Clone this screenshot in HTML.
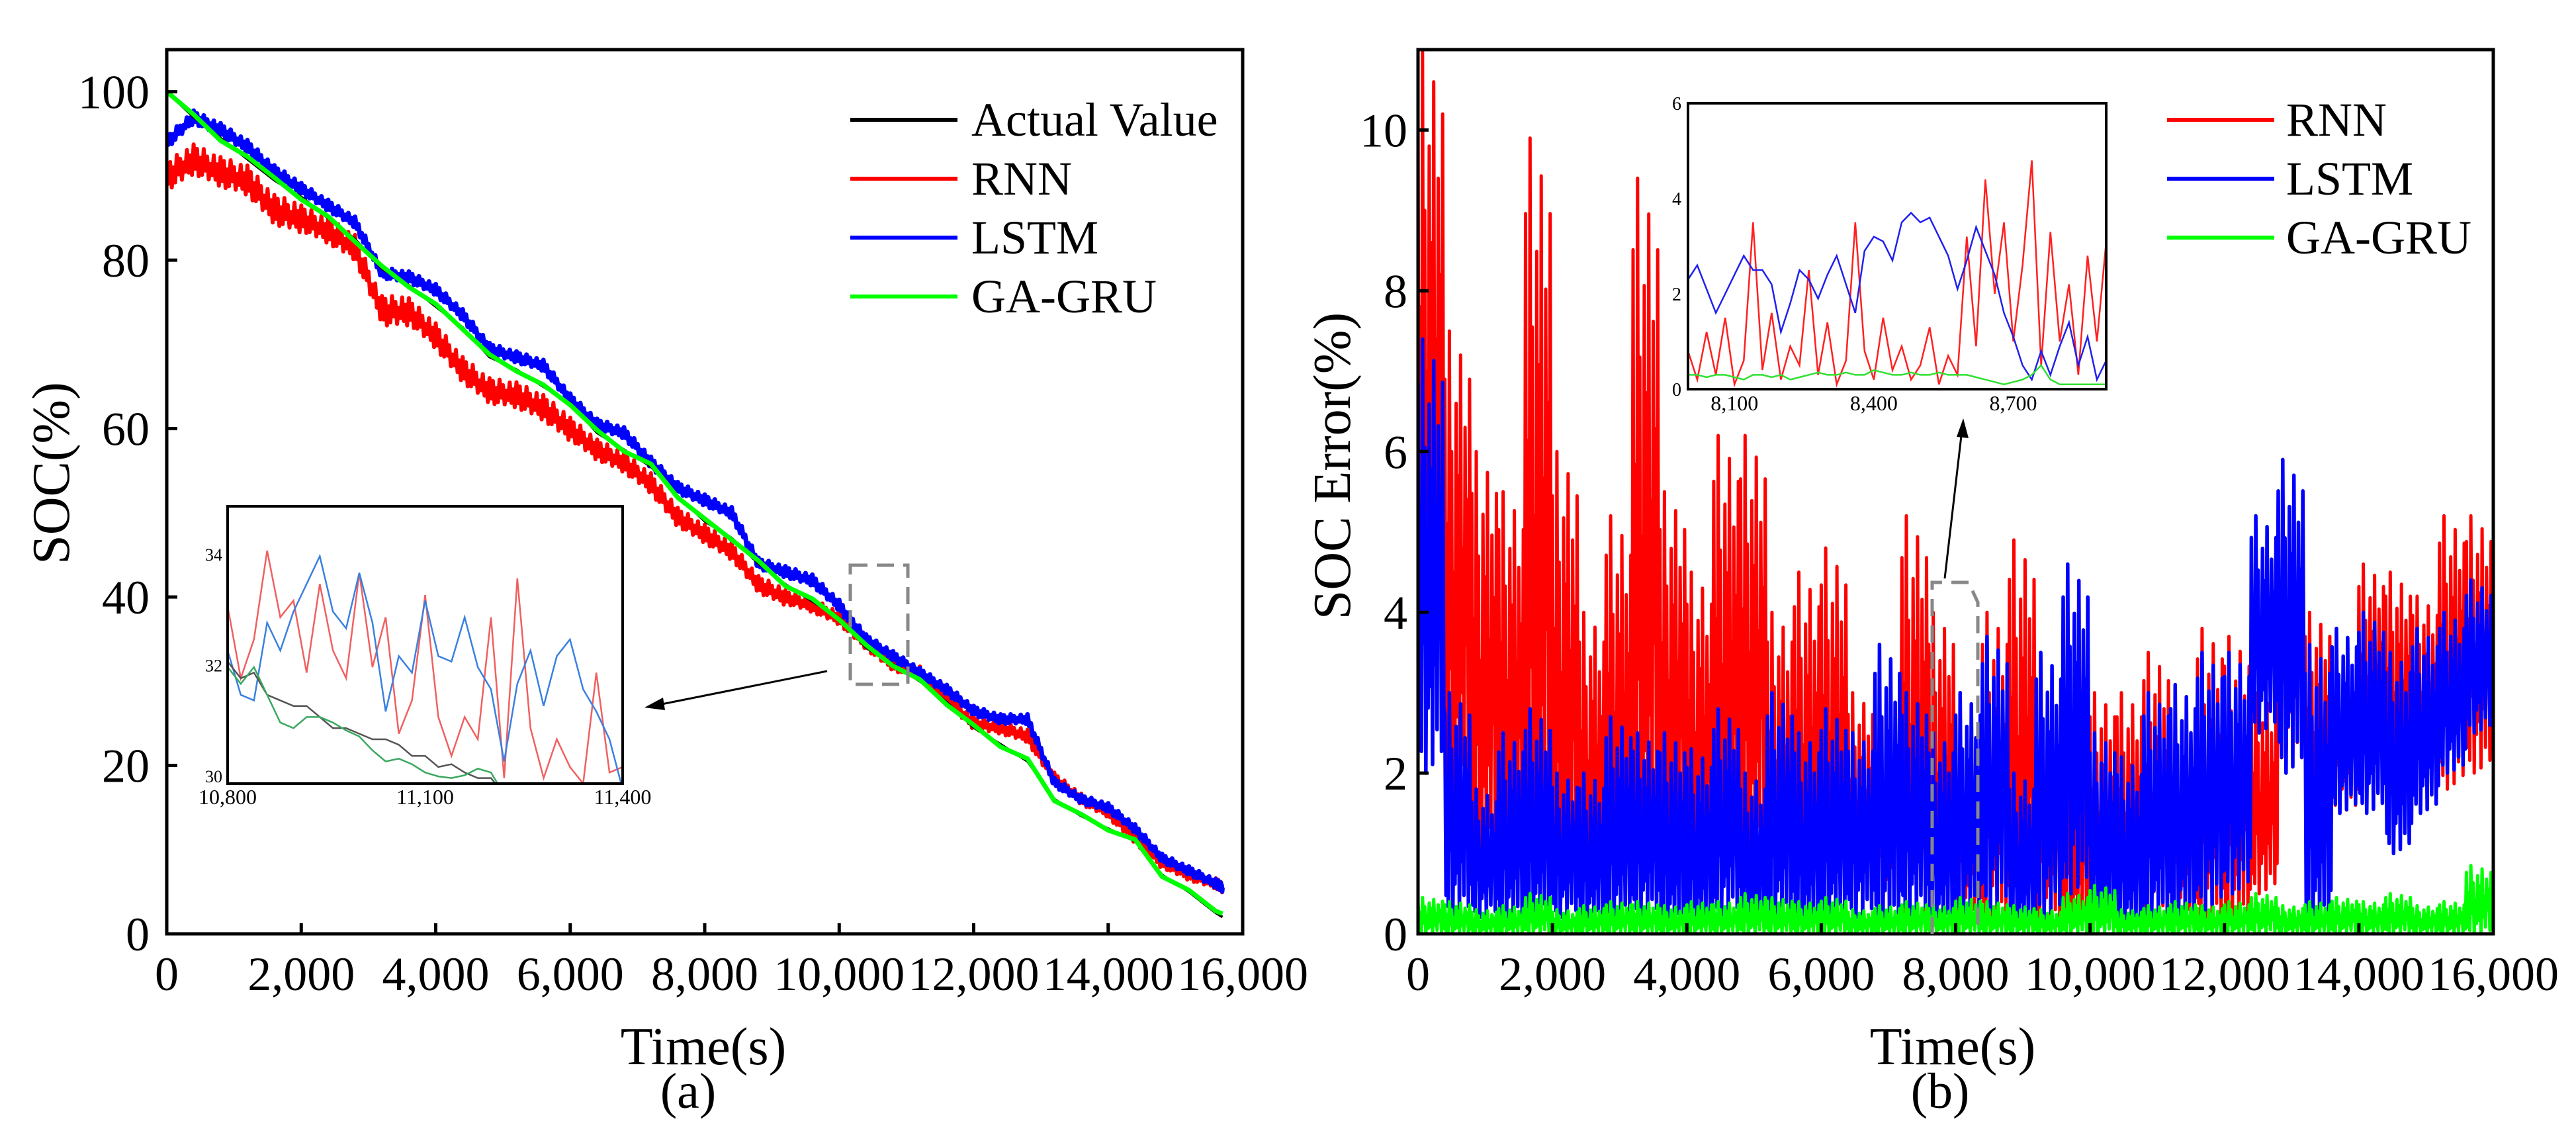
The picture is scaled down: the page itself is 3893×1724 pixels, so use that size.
<!DOCTYPE html>
<html><head><meta charset="utf-8"><style>
html,body{margin:0;padding:0;background:#fff}
svg{display:block}
text{font-family:"Liberation Serif",serif;fill:#000}
</style></head><body>
<svg id="fig" width="3893" height="1724" viewBox="0 0 3893 1724" xmlns="http://www.w3.org/2000/svg">
<defs>
<clipPath id="clipA"><rect x="252" y="75" width="1626" height="1336"/></clipPath>
<clipPath id="clipB"><rect x="2143" y="75" width="1625" height="1336"/></clipPath>
<clipPath id="clipAi"><rect x="344" y="765" width="597" height="419"/></clipPath>
<clipPath id="clipBi"><rect x="2551" y="156" width="632" height="432"/></clipPath>
</defs>
<g id="pa"></g>
<g id="pb"></g>
</svg>
<script>
// ---- Panel (a) data: SOC (%) sampled every 400 s ----
const timesA = [0,400,800,1200,1600,2000,2400,2800,3200,3600,4000,4400,4800,5200,5600,6000,6400,6800,7200,7600,8000,8400,8800,9200,9600,10000,10400,10800,11200,11600,12000,12400,12800,13200,13600,14000,14400,14800,15200,15600,15700];
const actualA = [100,97,94.5,92,89.5,87.5,85,82.5,79,77,74.5,72,68.5,67,65,63,59.5,57.5,55.5,52,49,47,44,41.5,39.5,37.5,34,32,30,27.5,24.5,22.5,20.5,16,14,12.5,11,7,5,2.5,2];
const gagruA = [100,97.3,94.2,92.3,89.8,87.2,85.2,82.2,79.3,76.8,74.8,71.8,68.8,66.8,65.2,62.8,59.8,57.3,55.8,51.8,49.3,46.8,44.3,41.3,39.8,37.3,34.3,31.8,30.2,27.2,24.8,22.2,20.8,15.8,14.2,12.3,11.2,6.8,5.2,2.7,2.4];
const lstmA = [94,97,95.5,93.5,90.5,88.5,86.5,84.5,78.5,78,76.5,73.5,69.5,68.5,67.5,63.5,60.5,59.5,56,53,51.5,50,44,43,42,39,35,33,31,29,26.5,25.5,25.5,18,16,15,12.5,9,7.5,6,5.5];
const rnnA = [90,92,90.5,89.5,86,85,83.5,81.5,74,74,71,67,64.5,64,62.5,60,57.5,56,53.5,49.5,47.5,45.5,41.5,40,39,37.5,34.5,32,31,28,25,24.5,23.5,18.5,16,14.5,11.5,8.5,7,6,5.5];
const rnnSpreadA = [3.5,3.5,3.5,3.5,3.5,3,3,3,3.5,3,3,3,3,3,3,2.6,2.4,2.4,2.4,2.2,2.2,2,2,1.6,1.6,1.5,1.5,1.5,1.5,1.5,1.5,1.5,1.5,1.3,1.3,1.5,1.5,1.3,1.3,1.2,1.2];
const lstmSpreadA = [1.5,1.5,1.5,1.5,1.5,1.3,1.3,1.3,1.3,1.3,1.3,1.3,1.3,1.3,1.3,1.3,1.3,1.3,1.3,1.3,1.3,1.3,1.3,1.3,1.3,1.3,1.1,1.1,1.1,1.1,1.1,1.1,1.1,1,1,1,1,1,1,1,1];
const yTicksA = [0,20,40,60,80,100];
const xTicks = [0,2000,4000,6000,8000,10000,12000,14000,16000];
const xTickLabels = ["0","2,000","4,000","6,000","8,000","10,000","12,000","14,000","16,000"];
// inset (a): 10,800-11,400 s every 20 s
const insetTimesA = [10800,10820,10840,10860,10880,10900,10920,10940,10960,10980,11000,11020,11040,11060,11080,11100,11120,11140,11160,11180,11200,11220,11240,11260,11280,11300,11320,11340,11360,11380,11400];
const insetRnnA = [33.2,31.9,32.6,34.2,33.0,33.3,32.0,33.6,32.4,31.9,33.8,32.1,33.0,30.9,31.5,33.4,31.2,30.5,31.2,30.8,33.0,30.1,33.7,31.0,30.1,30.8,30.3,30.0,32.0,30.2,30.3];
const insetLstmA = [32.4,31.6,31.5,32.9,32.4,33.1,33.6,34.1,33.1,32.8,33.8,32.9,31.3,32.3,32.0,33.3,32.3,32.2,33.0,32.1,31.7,30.4,31.8,32.4,31.4,32.3,32.6,31.7,31.3,30.8,29.9];
const insetActualA = [32.2,31.9,32.0,31.6,31.5,31.4,31.4,31.2,31.0,31.0,30.9,30.8,30.8,30.7,30.5,30.5,30.3,30.35,30.2,30.1,30.1,29.8,29.7,29.6,29.5,29.4,29.3,29.2,29.1,29.0,28.9];
const insetGagruA = [32.1,31.8,32.1,31.6,31.1,31.0,31.2,31.2,31.1,30.96,30.85,30.6,30.4,30.45,30.35,30.2,30.13,30.1,30.15,30.27,30.2,29.8,29.7,29.6,29.5,29.4,29.3,29.2,29.1,29.0,28.9];
const insetXTicksA = [10800,11100,11400];
const insetXLabelsA = ["10,800","11,100","11,400"];
const insetYTicksA = [30,32,34];

// ---- Panel (b) data: SOC error (%) bins of 400 s (low / high envelope) ----
const binsB = [0,400,800,1200,1600,2000,2400,2800,3200,3600,4000,4400,4800,5200,5600,6000,6400,6800,7200,7600,8000,8400,8800,9200,9600,10000,10400,10800,11200,11600,12000,12400,12800,13200,13600,14000,14400,14800,15200,15600];
const rnnHiB = [11,7.5,6,5.5,9.9,6,4,5.2,9.4,5.5,4.5,6.2,6.2,4,4.5,4.8,3,3,5.2,4,3,4,4.9,3,2.5,3,3,3.5,3,3.8,3.7,3,5.8,4,3.5,4.6,4.5,4.2,5.2,5.2];
const rnnLoB = [3,1.5,0.8,0.8,0.5,0.5,0.3,0.3,0.5,0.8,0.5,0.5,0.8,0.3,0.2,0.2,0.3,0.1,0,0,0,0,0,0,0,0,0,0,0,0,0,0.5,2,1,1.5,1.8,1.5,1.8,1.8,2];
const lstmHiB = [7.4,3,1.8,2.5,2.8,2,2,2.7,2.5,2.5,2.3,2.8,2,3,2.5,2.8,2.5,3.6,3,2.5,3,3.7,2,3.5,4.6,2.5,2.2,3,3.1,3.5,3.5,5.2,5.9,3.6,3.8,4,3.5,3.8,4,4.4];
const lstmLoB = [2,0.2,0.2,0.1,0.1,0.2,0.1,0.1,0.2,0,0,0.2,0,0.1,0,0.1,0.2,0,0.2,0,0.2,0.3,0,0.2,0.5,0,0,0.1,0.1,0.3,0.5,2.5,2,0,1.5,1.5,1,1.5,2,2.5];
const gagruHiB = [0.45,0.4,0.3,0.35,0.5,0.3,0.35,0.4,0.4,0.35,0.4,0.4,0.5,0.45,0.4,0.45,0.3,0.35,0.4,0.35,0.45,0.4,0.35,0.3,0.5,0.6,0.3,0.35,0.4,0.35,0.4,0.5,0.35,0.4,0.45,0.4,0.5,0.35,0.4,0.85];
const yTicksB = [0,2,4,6,8,10];
// inset (b): 8,000-8,900 s every 20 s
const insetTimesB = [8000,8020,8040,8060,8080,8100,8120,8140,8160,8180,8200,8220,8240,8260,8280,8300,8320,8340,8360,8380,8400,8420,8440,8460,8480,8500,8520,8540,8560,8580,8600,8620,8640,8660,8680,8700,8720,8740,8760,8780,8800,8820,8840,8860,8880,8900];
const insetRnnB = [0.8,0.2,1.2,0.3,1.5,0.1,0.6,3.5,0.4,1.6,0.2,0.9,0.5,2.5,0.3,1.4,0.1,0.6,3.5,0.8,0.2,1.5,0.4,0.9,0.2,0.5,1.3,0.1,0.7,0.3,3.2,0.9,4.4,2,3.5,1,2.6,4.8,0.5,3.3,1,2.2,0.3,2.8,1,3.1];
const insetLstmB = [2.3,2.6,2.1,1.6,2,2.4,2.8,2.5,2.5,2.2,1.2,1.8,2.5,2.3,1.9,2.4,2.8,2.2,1.6,2.9,3.2,3.1,2.7,3.5,3.7,3.5,3.6,3.2,2.8,2.1,2.7,3.4,2.9,2.4,1.6,1.1,0.5,0.2,0.8,0.3,0.9,1.4,0.5,1.1,0.2,0.6];
const insetGagruB = [0.3,0.3,0.25,0.3,0.3,0.25,0.2,0.3,0.3,0.25,0.3,0.2,0.25,0.3,0.35,0.3,0.3,0.35,0.3,0.3,0.4,0.35,0.3,0.3,0.35,0.3,0.3,0.35,0.3,0.3,0.3,0.25,0.2,0.15,0.1,0.15,0.2,0.3,0.5,0.2,0.1,0.1,0.1,0.1,0.1,0.1];
const insetXTicksB = [8100,8400,8700];
const insetXLabelsB = ["8,100","8,400","8,700"];
const insetYTicksB = [0,2,4,6];

const NS = "http://www.w3.org/2000/svg";
function mk(parent, tag, attrs, txt){
  const e = document.createElementNS(NS, tag);
  for (const k in attrs) e.setAttribute(k, attrs[k]);
  if (txt !== undefined) e.textContent = txt;
  parent.appendChild(e);
  return e;
}
function lin(d0,d1,r0,r1){ return v => r0 + (v-d0)/(d1-d0)*(r1-r0); }
const jig = [1,-0.6,0.8,-1,0.3,-0.8,1,-0.4,0.6,-0.9,0.2,-0.5,0.9,-0.7,0.4,-1];
const zig = [0.9,0.1,0.6,0.05,1,0.3,0.75,0,0.5,0.15,0.85,0.2,0.7,0.02,0.95,0.25,0.55,0.1,0.8,0.35,0.65,0.05,0.9,0.15];

function linePath(xs, ys, sx, sy){
  return xs.map((t,i)=>(i?'L':'M')+sx(t).toFixed(1)+' '+sy(ys[i]).toFixed(1)).join('');
}
function jitterPath(xs, ys, spread, sx, sy){
  let d = '';
  for (let i=0;i<xs.length-1;i++){
    for (let k=0;k<jig.length;k++){
      const f = k/jig.length;
      const t = xs[i]+(xs[i+1]-xs[i])*f;
      const v = ys[i]+(ys[i+1]-ys[i])*f + spread[i]*jig[k]*0.5;
      d += (d?'L':'M')+sx(t).toFixed(1)+' '+sy(v).toFixed(1);
    }
  }
  const n = xs.length-1;
  d += 'L'+sx(xs[n]).toFixed(1)+' '+sy(ys[n]).toFixed(1);
  return d;
}
function envPath(bins, lo, hi, width, sx, sy){
  let d = '';
  for (let i=0;i<bins.length;i++){
    for (let k=0;k<zig.length;k++){
      const t = bins[i] + width*k/zig.length;
      const v = lo[i] + (hi[i]-lo[i])*zig[k];
      d += (d?'L':'M')+sx(t).toFixed(1)+' '+sy(v).toFixed(1);
    }
  }
  return d;
}

// ================= Panel A =================
const pa = document.getElementById('pa');
const axA = {x0:252,x1:1878,y0:1411,y1:75};
const sxA = lin(0,16000,axA.x0,axA.x1), syA = lin(0,105,axA.y0,axA.y1);
const seriesA = mk(pa,'g',{'clip-path':'url(#clipA)'});


let p;
p = mk(seriesA,'path',{d:jitterPath(timesA,rnnA,rnnSpreadA,sxA,syA),fill:'none',stroke:'#ff0000','stroke-width':6,'stroke-linejoin':'round'});


p = mk(seriesA,'path',{d:jitterPath(timesA,lstmA,lstmSpreadA,sxA,syA),fill:'none',stroke:'#0000ff','stroke-width':7,'stroke-linejoin':'round'});


p = mk(seriesA,'path',{d:linePath(timesA,actualA,sxA,syA),fill:'none',stroke:'#000','stroke-width':4});


p = mk(seriesA,'path',{d:linePath(timesA,gagruA,sxA,syA),fill:'none',stroke:'#00ff00','stroke-width':7});



function axes(g, ax, sx, sy, yt, ylabelX){
  const fr = mk(g,'rect',{x:ax.x0,y:ax.y1,width:ax.x1-ax.x0,height:ax.y0-ax.y1,fill:'none',stroke:'#000','stroke-width':5});
  
  
  xTicks.forEach((t,i)=>{
    const x = sx(t);
    const tk = mk(g,'line',{x1:x,x2:x,y1:ax.y0,y2:ax.y0-16,stroke:'#000','stroke-width':5});
    
    
    const lb = mk(g,'text',{x:x,y:1496,'font-size':72,'text-anchor':'middle'},xTickLabels[i]);
    
    
  });
  yt.forEach(v=>{
    const y = sy(v);
    const tk = mk(g,'line',{x1:ax.x0,x2:ax.x0+16,y1:y,y2:y,stroke:'#000','stroke-width':5});
    
    
    const lb = mk(g,'text',{x:ylabelX,y:y+25,'font-size':72,'text-anchor':'end'},String(v));
    
    
  });
}
axes(pa, axA, sxA, syA, yTicksA, 226);

let t;
t = mk(pa,'text',{x:1063,y:1608,'font-size':80,'text-anchor':'middle'},'Time(s)');


t = mk(pa,'text',{x:1040,y:1674,'font-size':76,'text-anchor':'middle'},'(a)');


t = mk(pa,'text',{x:0,y:0,'font-size':80,'text-anchor':'middle',transform:'translate(104,715) rotate(-90)'},'SOC(%)');



// legend A
const legA = [['Actual Value','#000'],['RNN','#ff0000'],['LSTM','#0000ff'],['GA-GRU','#00ff00']];
const lgA = mk(pa,'g',{});


legA.forEach((e,i)=>{
  const y = 159 + i*89;
  const ln = mk(lgA,'line',{x1:1285,x2:1447,y1:y+22,y2:y+22,stroke:e[1],'stroke-width':6});
  
  
  const tx = mk(lgA,'text',{x:1468,y:y+46,'font-size':72},e[0]);
  
  
});

// zoom box + arrow A
let zb = mk(pa,'rect',{x:1285,y:854,width:87,height:180,fill:'none',stroke:'#888','stroke-width':5,'stroke-dasharray':'26 14'});


let ar = mk(pa,'line',{x1:1250,y1:1014,x2:990,y2:1066,stroke:'#000','stroke-width':3});


let ah = mk(pa,'polygon',{points:'974,1069 1002,1054 1005,1073',fill:'#000'});



// inset A
const inA = {x0:344,x1:941,y0:1184,y1:765};
const sxIA = lin(10800,11400,inA.x0,inA.x1), syIA = lin(30,35,inA.y0,inA.y1);
const giA = mk(pa,'g',{});


mk(giA,'rect',{x:inA.x0,y:inA.y1,width:inA.x1-inA.x0,height:inA.y0-inA.y1,fill:'#fff'});
const ciA = mk(giA,'g',{'clip-path':'url(#clipAi)'});
[[insetRnnA,'#f06060','inset-rnn-line'],[insetLstmA,'#3a80e0','inset-lstm-line'],[insetActualA,'#555','inset-actual-line'],[insetGagruA,'#3aa860','inset-gagru-line']].forEach(s=>{
  const q = mk(ciA,'path',{d:linePath(insetTimesA,s[0],sxIA,syIA),fill:'none',stroke:s[1],'stroke-width':2.5});
  
  
});
let ifr = mk(giA,'rect',{x:inA.x0,y:inA.y1,width:inA.x1-inA.x0,height:inA.y0-inA.y1,fill:'none',stroke:'#000','stroke-width':4});


insetXTicksA.forEach((v,i)=>{
  const q = mk(giA,'text',{x:sxIA(v),y:1215,'font-size':32,'text-anchor':'middle'},insetXLabelsA[i]);
  
  
});
insetYTicksA.forEach(v=>{
  const q = mk(giA,'text',{x:336,y:syIA(v)-2,'font-size':26,'text-anchor':'end'},String(v));
  
  
});

// ================= Panel B =================
const pb = document.getElementById('pb');
const axB = {x0:2143,x1:3768,y0:1411,y1:75};
const sxB = lin(0,16000,axB.x0,axB.x1), syB = lin(0,11,axB.y0,axB.y1);
const seriesB = mk(pb,'g',{'clip-path':'url(#clipB)'});


const zeroB = binsB.map(()=>0);
p = mk(seriesB,'path',{d:envPath(binsB,rnnLoB,rnnHiB,400,sxB,syB),fill:'none',stroke:'#ff0000','stroke-width':5,'stroke-linejoin':'round'});


p = mk(seriesB,'path',{d:envPath(binsB,lstmLoB,lstmHiB,400,sxB,syB),fill:'none',stroke:'#0000ff','stroke-width':5.5,'stroke-linejoin':'round'});


p = mk(seriesB,'path',{d:envPath(binsB,zeroB,gagruHiB,400,sxB,syB),fill:'none',stroke:'#00ff00','stroke-width':5,'stroke-linejoin':'round'});


axes(pb, axB, sxB, syB, yTicksB, 2127);

t = mk(pb,'text',{x:2951,y:1608,'font-size':80,'text-anchor':'middle'},'Time(s)');


t = mk(pb,'text',{x:2932,y:1674,'font-size':76,'text-anchor':'middle'},'(b)');


t = mk(pb,'text',{x:0,y:0,'font-size':80,'text-anchor':'middle',transform:'translate(2040,704) rotate(-90)'},'SOC Error(%)');



const legB = [['RNN','#ff0000'],['LSTM','#0000ff'],['GA-GRU','#00ff00']];
const lgB = mk(pb,'g',{});


legB.forEach((e,i)=>{
  const y = 159 + i*89;
  const ln = mk(lgB,'line',{x1:3275,x2:3437,y1:y+22,y2:y+22,stroke:e[1],'stroke-width':6});
  
  
  const tx = mk(lgB,'text',{x:3455,y:y+46,'font-size':72},e[0]);
  
  
});

zb = mk(pb,'path',{d:'M2920 1411 L2920 880 L2975 880 L2989 910 L2989 1411',fill:'none',stroke:'#888','stroke-width':5,'stroke-dasharray':'26 14'});


ar = mk(pb,'line',{x1:2939,y1:874,x2:2965,y2:650,stroke:'#000','stroke-width':3});


ah = mk(pb,'polygon',{points:'2967,632 2957,660 2975,662',fill:'#000'});



const inB = {x0:2551,x1:3183,y0:588,y1:156};
const sxIB = lin(8000,8900,inB.x0,inB.x1), syIB = lin(0,6,inB.y0,inB.y1);
const giB = mk(pb,'g',{});


mk(giB,'rect',{x:inB.x0,y:inB.y1,width:inB.x1-inB.x0,height:inB.y0-inB.y1,fill:'#fff'});
const ciB = mk(giB,'g',{'clip-path':'url(#clipBi)'});
[[insetRnnB,'#ff2020','inset-rnn-line'],[insetLstmB,'#2020ee','inset-lstm-line'],[insetGagruB,'#30e030','inset-gagru-line']].forEach(s=>{
  const q = mk(ciB,'path',{d:linePath(insetTimesB,s[0],sxIB,syIB),fill:'none',stroke:s[1],'stroke-width':2.5});
  
  
});
ifr = mk(giB,'rect',{x:inB.x0,y:inB.y1,width:inB.x1-inB.x0,height:inB.y0-inB.y1,fill:'none',stroke:'#000','stroke-width':4});


insetXTicksB.forEach((v,i)=>{
  const q = mk(giB,'text',{x:sxIB(v),y:620,'font-size':32,'text-anchor':'middle'},insetXLabelsB[i]);
  
  
});
insetYTicksB.forEach(v=>{
  const q = mk(giB,'text',{x:2541,y:syIB(v)+10,'font-size':28,'text-anchor':'end'},String(v));
  
  
});
</script>
</body></html>
